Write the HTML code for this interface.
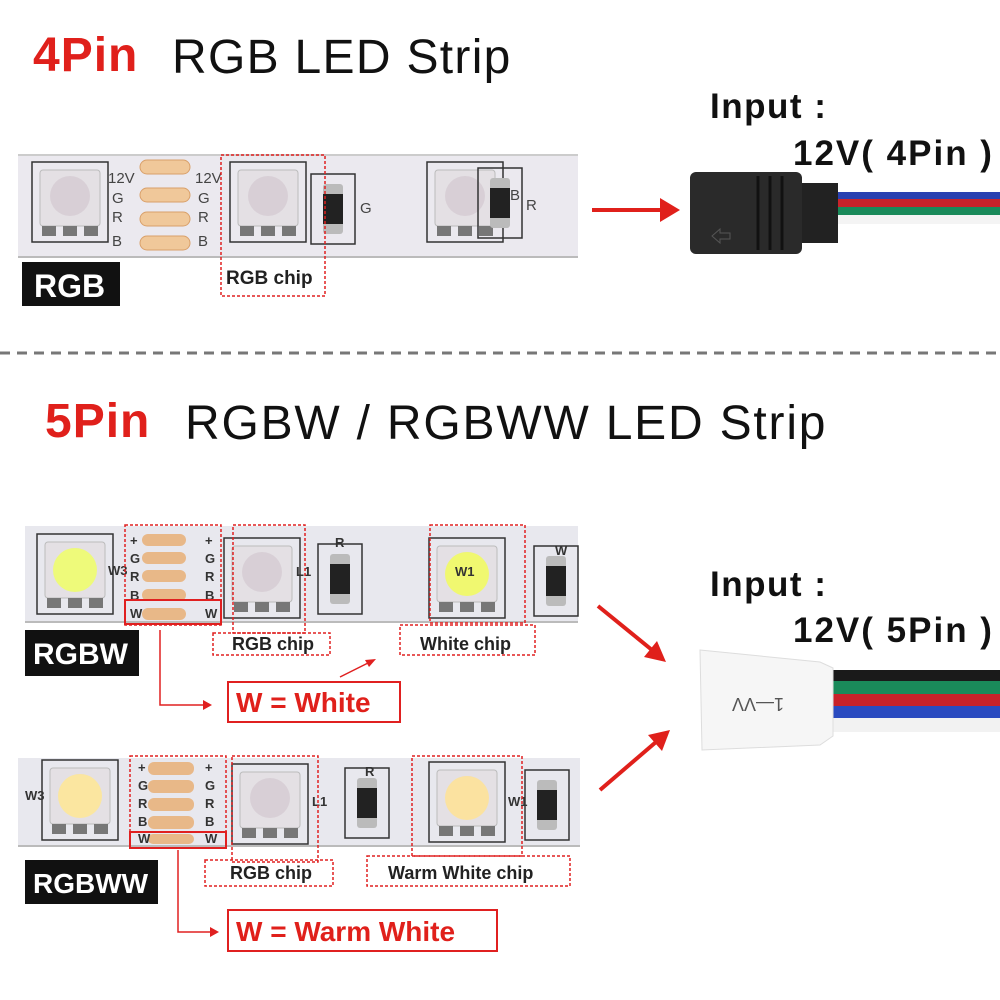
<!DOCTYPE html>
<html><head><meta charset="utf-8"><style>
body{margin:0;background:#fff}
svg{display:block}
text{font-family:"Liberation Sans","DejaVu Sans",sans-serif}
</style></head><body>
<svg width="1000" height="1000" viewBox="0 0 1000 1000" xmlns="http://www.w3.org/2000/svg">
<defs>
<g id="chip">
<rect x="-38" y="-38" width="76" height="80" fill="none" stroke="#333" stroke-width="1.5"/>
<rect x="-30" y="-30" width="60" height="56" rx="3" fill="#e4e0e4" stroke="#bbb"/>
<circle cx="0" cy="-4" r="20" fill="#d8cfd6"/>
<rect x="-28" y="26" width="14" height="10" fill="#777"/><rect x="-7" y="26" width="14" height="10" fill="#777"/><rect x="14" y="26" width="14" height="10" fill="#777"/>
</g>
<g id="res">
<rect x="-22" y="-34" width="44" height="70" fill="none" stroke="#333" stroke-width="1.5"/>
<rect x="-10" y="-24" width="20" height="50" rx="3" fill="#bbb"/>
<rect x="-10" y="-14" width="20" height="30" fill="#222"/>
</g>
</defs>

<text x="33" y="71" font-size="48" font-weight="bold" fill="#e0201b" letter-spacing="1">4Pin</text>
<text x="172" y="73" font-size="48" fill="#111" letter-spacing="1.3">RGB LED Strip</text>

<!-- strip 1 -->
<rect x="18" y="155" width="560" height="103" fill="#ebe9ef"/>
<line x1="18" y1="155" x2="578" y2="155" stroke="#ccc" stroke-width="2"/>
<line x1="18" y1="257" x2="578" y2="257" stroke="#bbb" stroke-width="2"/>
<use href="#chip" x="70" y="200"/>
<use href="#chip" x="268" y="200"/>
<use href="#chip" x="465" y="200"/>
<use href="#res" x="333" y="208"/>
<use href="#res" x="500" y="202"/>
<g fill="#f0c89a" stroke="#d9a06a">
<rect x="140" y="160" width="50" height="14" rx="7"/><rect x="140" y="188" width="50" height="14" rx="7"/><rect x="140" y="212" width="50" height="14" rx="7"/><rect x="140" y="236" width="50" height="14" rx="7"/></g>
<g font-size="15" fill="#444"><text x="108" y="183">12V</text><text x="112" y="203">G</text><text x="112" y="222">R</text><text x="112" y="246">B</text><text x="195" y="183">12V</text><text x="198" y="203">G</text><text x="198" y="222">R</text><text x="198" y="246">B</text><text x="360" y="213">G</text><text x="510" y="200">B</text><text x="526" y="210">R</text></g>
<rect x="221" y="155" width="104" height="141" fill="none" stroke="#e02020" stroke-width="1.5" stroke-dasharray="3,2"/>
<text x="226" y="284" font-size="19" font-weight="bold" fill="#222">RGB chip</text>
<rect x="22" y="262" width="98" height="44" fill="#111"/>
<text x="34" y="297" font-size="32" font-weight="bold" fill="#fff">RGB</text>

<!-- arrow 1 -->
<line x1="592" y1="210" x2="665" y2="210" stroke="#e0201b" stroke-width="4"/>
<polygon points="680,210 660,198 660,222" fill="#e0201b"/>

<text x="710" y="118" font-size="35" font-weight="bold" fill="#111" letter-spacing="1.5">Input :</text>
<text x="793" y="165" font-size="35" font-weight="bold" fill="#111" letter-spacing="2">12V( 4Pin )</text>

<!-- connector 1 -->
<rect x="836" y="192" width="164" height="7" fill="#2940b0"/>
<rect x="836" y="199" width="164" height="8" fill="#c8222a"/>
<rect x="836" y="207" width="164" height="8" fill="#1a8a5a"/>
<rect x="836" y="215" width="164" height="9" fill="#f4f4f4"/>
<rect x="798" y="183" width="40" height="60" fill="#222"/>
<rect x="690" y="172" width="112" height="82" rx="6" fill="#2a2a2a"/>
<g stroke="#111" stroke-width="3"><line x1="758" y1="176" x2="758" y2="250"/><line x1="770" y1="176" x2="770" y2="250"/><line x1="782" y1="176" x2="782" y2="250"/></g>
<path d="M712 236 l8 -7 v4 h10 v6 h-10 v4 z" fill="none" stroke="#555"/>

<line x1="0" y1="353" x2="1000" y2="353" stroke="#777" stroke-width="3" stroke-dasharray="10,7"/>

<text x="45" y="437" font-size="48" font-weight="bold" fill="#e0201b" letter-spacing="1">5Pin</text>
<text x="185" y="439" font-size="48" fill="#111" letter-spacing="1.8">RGBW / RGBWW LED Strip</text>

<!-- strip 2 -->
<rect x="25" y="526" width="553" height="96" fill="#e8e8ee"/>
<line x1="25" y1="622" x2="578" y2="622" stroke="#bbb" stroke-width="2"/>
<use href="#chip" x="75" y="572"/>
<circle cx="75" cy="570" r="22" fill="#eefa7a"/>
<use href="#chip" x="262" y="576"/>
<use href="#chip" x="467" y="576"/>
<circle cx="467" cy="574" r="22" fill="#f0f870"/>
<use href="#res" x="340" y="578"/>
<use href="#res" x="556" y="580"/>
<g fill="#e8b888"><rect x="142" y="534" width="44" height="12" rx="6"/><rect x="142" y="552" width="44" height="12" rx="6"/><rect x="142" y="570" width="44" height="12" rx="6"/><rect x="142" y="589" width="44" height="12" rx="6"/><rect x="142" y="608" width="44" height="12" rx="6"/></g>
<g font-size="13" font-weight="bold" fill="#333"><text x="130" y="545">+</text><text x="130" y="563">G</text><text x="130" y="581">R</text><text x="130" y="600">B</text><text x="130" y="618">W</text><text x="205" y="545">+</text><text x="205" y="563">G</text><text x="205" y="581">R</text><text x="205" y="600">B</text><text x="205" y="618">W</text><text x="108" y="575">W3</text><text x="296" y="576">L1</text><text x="335" y="547">R</text><text x="455" y="576" >W1</text><text x="555" y="555">W</text></g>
<g fill="none" stroke="#e02020" stroke-width="1.5" stroke-dasharray="3,2">
<rect x="125" y="525" width="96" height="100"/><rect x="233" y="525" width="72" height="108"/><rect x="213" y="633" width="117" height="22"/><rect x="430" y="525" width="95" height="98"/><rect x="400" y="625" width="135" height="30"/></g>
<rect x="125" y="600" width="96" height="24" fill="none" stroke="#e02020" stroke-width="2"/>
<text x="232" y="650" font-size="18" font-weight="bold" fill="#222">RGB chip</text>
<text x="420" y="650" font-size="18" font-weight="bold" fill="#222">White chip</text>
<rect x="25" y="630" width="114" height="46" fill="#111"/>
<text x="33" y="664" font-size="30" font-weight="bold" fill="#fff">RGBW</text>
<polyline points="160,630 160,705 205,705" fill="none" stroke="#e02020" stroke-width="1.5"/>
<polygon points="212,705 203,700 203,710" fill="#e02020"/>
<line x1="340" y1="677" x2="370" y2="662" stroke="#e02020" stroke-width="1.5"/>
<polygon points="376,659 365,660 369,667" fill="#e02020"/>
<rect x="228" y="682" width="172" height="40" fill="#fff" stroke="#e02020" stroke-width="2"/>
<text x="236" y="712" font-size="28" font-weight="bold" fill="#e0201b">W = White</text>

<!-- strip 3 -->
<rect x="18" y="758" width="562" height="88" fill="#e8e8ee"/>
<line x1="18" y1="846" x2="580" y2="846" stroke="#bbb" stroke-width="2"/>
<use href="#chip" x="80" y="798"/>
<circle cx="80" cy="796" r="22" fill="#fbe6a0"/>
<use href="#chip" x="270" y="802"/>
<use href="#chip" x="467" y="800"/>
<circle cx="467" cy="798" r="22" fill="#fbe2a0"/>
<use href="#res" x="367" y="802"/>
<use href="#res" x="547" y="804"/>
<g fill="#e8b888"><rect x="148" y="762" width="46" height="13" rx="6"/><rect x="148" y="780" width="46" height="13" rx="6"/><rect x="148" y="798" width="46" height="13" rx="6"/><rect x="148" y="816" width="46" height="13" rx="6"/><rect x="148" y="834" width="46" height="10" rx="5"/></g>
<g font-size="13" font-weight="bold" fill="#333"><text x="138" y="772">+</text><text x="138" y="790">G</text><text x="138" y="808">R</text><text x="138" y="826">B</text><text x="138" y="843">W</text><text x="205" y="772">+</text><text x="205" y="790">G</text><text x="205" y="808">R</text><text x="205" y="826">B</text><text x="205" y="843">W</text><text x="25" y="800">W3</text><text x="312" y="806">L1</text><text x="365" y="776">R</text><text x="508" y="806">W1</text></g>
<g fill="none" stroke="#e02020" stroke-width="1.5" stroke-dasharray="3,2">
<rect x="130" y="756" width="96" height="92"/><rect x="232" y="756" width="86" height="106"/><rect x="205" y="860" width="128" height="26"/><rect x="412" y="756" width="110" height="100"/><rect x="367" y="856" width="203" height="30"/></g>
<rect x="130" y="832" width="96" height="16" fill="none" stroke="#e02020" stroke-width="2"/>
<text x="230" y="879" font-size="18" font-weight="bold" fill="#222">RGB chip</text>
<text x="388" y="879" font-size="18" font-weight="bold" fill="#222">Warm White chip</text>
<rect x="25" y="860" width="133" height="44" fill="#111"/>
<text x="33" y="893" font-size="28" font-weight="bold" fill="#fff">RGBWW</text>
<polyline points="178,850 178,932 212,932" fill="none" stroke="#e02020" stroke-width="1.5"/>
<polygon points="219,932 210,927 210,937" fill="#e02020"/>
<rect x="228" y="910" width="269" height="41" fill="#fff" stroke="#e02020" stroke-width="2"/>
<text x="236" y="941" font-size="28" font-weight="bold" fill="#e0201b">W = Warm White</text>

<!-- arrows 2 -->
<line x1="598" y1="606" x2="652" y2="650" stroke="#e0201b" stroke-width="4"/>
<polygon points="666,662 644,657 657,641" fill="#e0201b"/>
<line x1="600" y1="790" x2="656" y2="742" stroke="#e0201b" stroke-width="4"/>
<polygon points="670,730 662,751 648,735" fill="#e0201b"/>

<text x="710" y="596" font-size="35" font-weight="bold" fill="#111" letter-spacing="1.5">Input :</text>
<text x="793" y="642" font-size="35" font-weight="bold" fill="#111" letter-spacing="2">12V( 5Pin )</text>

<!-- connector 2 -->
<rect x="828" y="670" width="172" height="11" fill="#1a1a1a"/>
<rect x="828" y="681" width="172" height="13" fill="#1a8a5a"/>
<rect x="828" y="694" width="172" height="12" fill="#c8222a"/>
<rect x="828" y="706" width="172" height="12" fill="#2a4bc0"/>
<rect x="828" y="718" width="172" height="14" fill="#f2f2f2"/>
<path d="M700 650 L820 662 L833 668 L833 736 L820 745 L702 750 Z" fill="#f6f6f6" stroke="#ddd"/>
<text x="716" y="710" font-size="18" fill="#555" transform="rotate(180 750 704)">1—VV</text>
</svg>
</body></html>
